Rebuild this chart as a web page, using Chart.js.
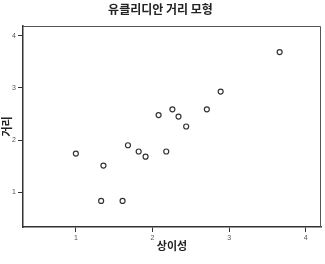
<!DOCTYPE html>
<html>
<head>
<meta charset="utf-8">
<script src="https://cdn.jsdelivr.net/npm/chart.js@4"></script>
<style>
    html, body { margin: 0; padding: 0; background: #fff; }
    .chart { width: 325px; height: 264px; }
</style>
</head>
<body>
<div class="chart"><canvas id="chart" width="325" height="264"></canvas></div>
<script>
    const chartTitle = '유클리디안 거리 모형';
    const xTitle = '상이성';
    const yTitle = '거리';

    // 상이성 (x) / 거리 (y)
    const dissimilarity = [1.00, 1.36, 1.33, 1.61, 1.68, 1.82, 1.91, 2.08, 2.18, 2.26, 2.34, 2.44, 2.71, 2.89, 3.66];
    const distance      = [1.74, 1.51, 0.83, 0.83, 1.90, 1.78, 1.68, 2.48, 1.78, 2.59, 2.45, 2.26, 2.59, 2.93, 3.69];

    const xTicks = [1, 2, 3, 4];
    const yTicks = [1, 2, 3, 4];

    const korFont = '"Noto Sans CJK KR", "Noto Sans", sans-serif';
    const tickFont = { family: '"Liberation Sans", Arial, sans-serif', size: 7 };

    // outline on top / right of the plot area
    const frame = {
        id: 'frame',
        afterDraw(chart) {
            const { ctx, chartArea: a } = chart;
            ctx.save();
            ctx.strokeStyle = '#555';
            ctx.lineWidth = 1;
            ctx.beginPath();
            ctx.moveTo(a.left, a.top + 0.5);
            ctx.lineTo(a.right - 0.5, a.top + 0.5);
            ctx.lineTo(a.right - 0.5, a.bottom);
            ctx.stroke();
            ctx.restore();
        },
    };

    const axisGrid = {
        display: true,
        drawOnChartArea: false,
        drawTicks: true,
        tickLength: 5,
        color: '#333',
        lineWidth: 1,
    };

    new Chart(document.getElementById('chart'), {
        type: 'scatter',
        data: {
            datasets: [{
                data: dissimilarity.map((x, i) => ({ x, y: distance[i] })),
                pointStyle: 'circle',
                pointRadius: 2.5,
                pointHoverRadius: 2.5,
                borderWidth: 1.2,
                borderColor: '#333',
                backgroundColor: '#fff',
            }],
        },
        plugins: [frame],
        options: {
            responsive: false,
            animation: false,
            layout: { padding: { left: 0, right: 4, top: 0, bottom: 0 } },
            plugins: {
                legend: { display: false },
                tooltip: { enabled: false },
                title: {
                    display: true,
                    text: chartTitle,
                    color: '#222',
                    font: { family: korFont, size: 12, weight: 'bold' },
                    padding: { top: 2, bottom: 9.6 },
                },
            },
            scales: {
                x: {
                    type: 'linear',
                    min: 0.31,
                    max: 4.2,
                    afterBuildTicks: (scale) => { scale.ticks = xTicks.map((v) => ({ value: v })); },
                    afterFit: (scale) => { scale.height = 37; },
                    grid: axisGrid,
                    border: { display: true, color: '#333', width: 1.5 },
                    ticks: {
                        color: '#555',
                        font: tickFont,
                        padding: 2,
                        maxRotation: 0,
                        callback: (v) => String(v),
                    },
                    title: {
                        display: true,
                        text: xTitle,
                        color: '#222',
                        font: { family: korFont, size: 11, weight: 'bold' },
                        padding: { top: 0, bottom: 12 },
                    },
                },
                y: {
                    type: 'linear',
                    min: 0.33,
                    max: 4.19,
                    afterBuildTicks: (scale) => { scale.ticks = yTicks.map((v) => ({ value: v })); },
                    afterFit: (scale) => { scale.width = 23; },
                    grid: axisGrid,
                    border: { display: true, color: '#333', width: 1.5 },
                    ticks: {
                        color: '#555',
                        font: tickFont,
                        padding: 2,
                        callback: (v) => String(v),
                    },
                    title: {
                        display: true,
                        text: yTitle,
                        color: '#222',
                        font: { family: korFont, size: 11, weight: 'bold' },
                        padding: { top: 0, bottom: 0 },
                    },
                },
            },
        },
    });
</script>
</body>
</html>
